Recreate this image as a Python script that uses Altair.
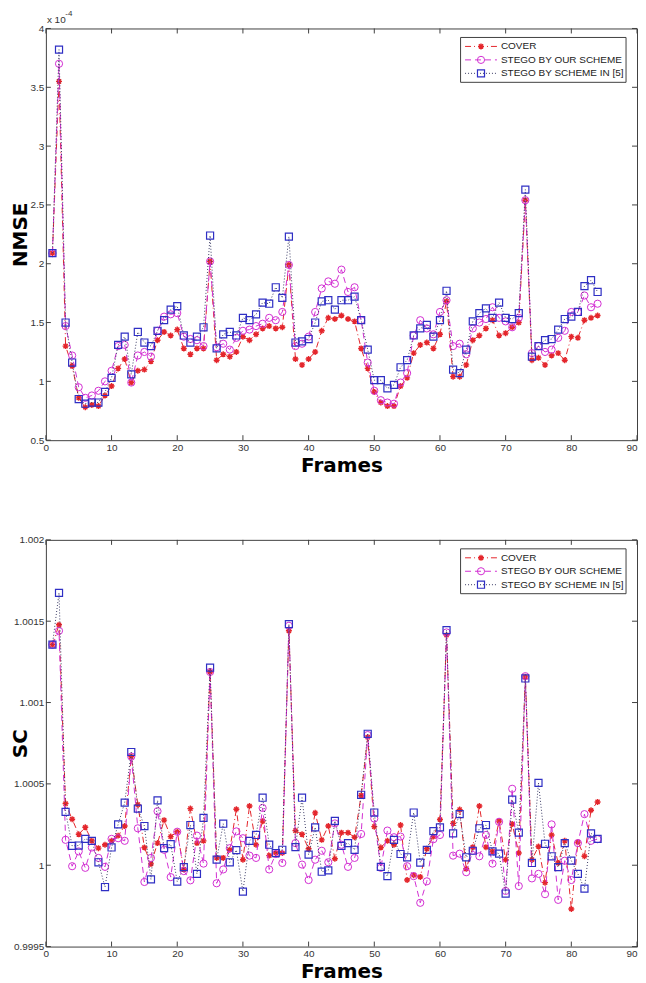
import altair as alt
import pandas as pd

frames = list(range(1, 85))
series_names = ["COVER", "STEGO BY OUR SCHEME", "STEGO BY SCHEME IN [5]"]
exponent_label = ["x 10", "-4"]

nmse_cover = [2.09, 3.55, 1.30, 1.13, 0.86, 0.78, 0.80, 0.79, 0.88, 0.96,
              1.11, 1.19, 0.99, 1.09, 1.10, 1.17, 1.35, 1.42, 1.39, 1.44,
              1.28, 1.23, 1.28, 1.28, 2.02, 1.18, 1.23, 1.21, 1.25, 1.38,
              1.35, 1.40, 1.45, 1.47, 1.45, 1.46, 1.99, 1.19, 1.14, 1.19,
              1.25, 1.43, 1.54, 1.53, 1.56, 1.53, 1.51, 1.28, 1.11, 0.91,
              0.82, 0.79, 0.79, 0.96, 1.03, 1.24, 1.31, 1.33, 1.28, 1.40,
              1.68, 1.04, 1.04, 1.14, 1.35, 1.39, 1.45, 1.52, 1.39, 1.41,
              1.46, 1.50, 2.54, 1.18, 1.20, 1.14, 1.22, 1.24, 1.18, 1.38,
              1.37, 1.52, 1.54, 1.56]
nmse_ours = [2.09, 3.70, 1.47, 1.22, 0.95, 0.86, 0.88, 0.92, 1.00, 1.09,
             1.30, 1.31, 0.99, 1.22, 1.25, 1.21, 1.43, 1.55, 1.57, 1.58,
             1.38, 1.36, 1.35, 1.30, 2.02, 1.29, 1.32, 1.27, 1.37, 1.43,
             1.44, 1.47, 1.49, 1.54, 1.52, 1.59, 1.99, 1.30, 1.32, 1.38,
             1.59, 1.79, 1.85, 1.83, 1.95, 1.76, 1.80, 1.52, 1.16, 0.92,
             0.84, 0.82, 0.81, 0.99, 1.07, 1.39, 1.52, 1.45, 1.40, 1.59,
             1.69, 1.30, 1.32, 1.23, 1.45, 1.50, 1.53, 1.63, 1.54, 1.51,
             1.46, 1.54, 2.54, 1.24, 1.30, 1.25, 1.27, 1.37, 1.43, 1.59,
             1.59, 1.73, 1.63, 1.66]
nmse_scheme5 = [2.09, 3.82, 1.50, 1.16, 0.85, 0.81, 0.82, 0.82, 0.91, 1.03,
                1.31, 1.38, 1.06, 1.42, 1.33, 1.30, 1.43, 1.52, 1.61, 1.64,
                1.39, 1.33, 1.38, 1.46, 2.24, 1.28, 1.40, 1.42, 1.39, 1.54,
                1.52, 1.57, 1.67, 1.66, 1.80, 1.71, 2.23, 1.33, 1.34, 1.36,
                1.50, 1.68, 1.69, 1.61, 1.69, 1.69, 1.72, 1.52, 1.27, 1.01,
                1.01, 0.94, 0.97, 1.12, 1.18, 1.39, 1.45, 1.48, 1.38, 1.52,
                1.77, 1.10, 1.07, 1.27, 1.51, 1.58, 1.62, 1.54, 1.67, 1.54,
                1.53, 1.58, 2.63, 1.21, 1.30, 1.35, 1.36, 1.44, 1.53, 1.55,
                1.59, 1.81, 1.86, 1.76]

sc_cover = [1.001356, 1.001478, 1.000379, 1.000283, 1.000190, 1.000233, 1.000150, 1.000105, 1.000126, 1.000150,
            1.000182, 1.000241, 1.000668, 1.000372, 1.000109, 1.000008, 1.000136, 1.000277, 1.000176, 1.000206,
            0.999974, 1.000348, 1.000136, 1.000150, 1.001188, 1.000045, 1.000045, 1.000095, 1.000344, 1.000034,
            1.000364, 1.000126, 1.000271, 1.000059, 1.000075, 1.000075, 1.001441, 1.000213, 1.000190, 1.000101,
            1.000322, 1.000156, 1.000241, 1.000040, 1.000200, 1.000200, 1.000172, 1.000429, 1.000787, 1.000237,
            1.000109, 1.000150, 1.000126, 1.000247, 0.999909, 0.999939, 0.999928, 1.000101, 1.000176, 1.000281,
            1.001415, 1.000257, 1.000342, 0.999978, 1.000111, 1.000364, 1.000111, 1.000085, 1.000271, 1.000034,
            1.000253, 1.000075, 1.001158, 1.000034, 1.000115, 0.999893, 1.000186, 1.000014, 1.000150, 0.999731,
            1.000142, 1.000055, 1.000338, 1.000389]
sc_ours = [1.001356, 1.001441, 1.000156, 0.999994, 1.000085, 0.999984, 1.000109, 1.000045, 0.999990, 1.000162,
           1.000166, 1.000150, 1.000668, 1.000227, 0.999897, 1.000045, 1.000332, 1.000095, 0.999927, 1.000206,
           0.999964, 0.999907, 1.000182, 1.000010, 1.001188, 0.999889, 0.999974, 1.000105, 1.000208, 1.000166,
           1.000059, 1.000045, 1.000352, 0.999974, 1.000069, 1.000014, 1.001472, 1.000136, 1.000004, 0.999909,
           1.000034, 1.000089, 1.000018, 1.000257, 1.000126, 0.999990, 1.000045, 1.000192, 1.000800, 1.000287,
           0.999984, 1.000213, 1.000172, 1.000176, 0.999994, 0.999933, 0.999769, 0.999901, 1.000160, 1.000186,
           1.001431, 1.000059, 1.000071, 0.999957, 1.000089, 1.000055, 1.000186, 1.000010, 1.000267, 0.999842,
           1.000470, 0.999872, 1.001162, 0.999919, 0.999947, 0.999822, 1.000251, 0.999787, 1.000028, 0.999909,
           1.000136, 1.000314, 1.000150, 1.000160]
sc_scheme5 = [1.001356, 1.001674, 1.000328, 1.000119, 1.000121, 1.000162, 1.000150, 1.000018, 0.999866, 1.000109,
              1.000251, 1.000385, 1.000696, 1.000348, 1.000241, 0.999913, 1.000399, 1.000105, 1.000130, 0.999899,
              0.999988, 1.000247, 0.999947, 1.000291, 1.001215, 1.000034, 1.000255, 1.000018, 1.000093, 0.999838,
              1.000150, 1.000186, 1.000415, 1.000126, 1.000075, 1.000095, 1.001482, 1.000111, 1.000415, 1.000065,
              1.000233, 0.999960, 0.999968, 1.000273, 1.000119, 1.000136, 1.000095, 1.000433, 1.000808, 1.000324,
              0.999990, 0.999933, 1.000156, 1.000069, 1.000049, 1.000324, 1.000016, 1.000094, 1.000210, 1.000233,
              1.001445, 1.000196, 1.000314, 1.000049, 1.000089, 1.000227, 1.000247, 1.000085, 1.000071, 0.999826,
              1.000403, 1.000200, 1.001148, 1.000014, 1.000506, 1.000132, 1.000055, 0.999988, 1.000136, 1.000028,
              0.999947, 0.999856, 1.000196, 1.000162]

x_ticks = [0, 10, 20, 30, 40, 50, 60, 70, 80, 90]
nmse_ticks = [0.5, 1, 1.5, 2, 2.5, 3, 3.5, 4]
sc_ticks = [0.9995, 1.0, 1.0005, 1.001, 1.0015, 1.002]

W = 593
H1 = 413
H2 = 408

RED = "#e4262c"
MAG = "#d22fd2"
BLUE = "#2f2fc4"
DOTC = "#3c3c66"
FRAME = "#404040"
STAR = "M-1,0L1,0M0,-1L0,1M-0.7,-0.7L0.7,0.7M-0.7,0.7L0.7,-0.7"

styles = [
    dict(line=RED, dash=[6, 3, 1, 3], shape=STAR, size=36, mcolor=RED, sw=1.4),
    dict(line=MAG, dash=[6, 4], shape="circle", size=52, mcolor=MAG, sw=1.0),
    dict(line=DOTC, dash=[1, 2], shape="square", size=50, mcolor=BLUE, sw=1.2),
]


def panel(series, ytitle, ydomain, yticks, H, exponent=False):
    xscale = alt.Scale(domain=[0, 90], nice=False, zero=False)
    yscale = alt.Scale(domain=ydomain, nice=False, zero=False)
    xaxis = alt.Axis(values=x_ticks, title="Frames", labelFlush=False, format="d",
                     labelAlign={"condition": {"test": "datum.value === 90", "value": "right"},
                                 "value": "center"})
    yaxis = alt.Axis(values=yticks, title=ytitle, format="~g", labelFlush=False,
                     titleX=-25, titleY=H / 2, titleAngle=270,
                     titleAlign="center", titleBaseline="middle")

    def X(f):
        return alt.X(f, scale=xscale, axis=xaxis)

    def Y(f):
        return alt.Y(f, scale=yscale, axis=yaxis)

    layers = []
    for vals, st in zip(series, styles):
        df = pd.DataFrame({"frame": frames, "value": vals})
        base = alt.Chart(df)
        layers.append(base.mark_line(color=st["line"], strokeDash=st["dash"], strokeWidth=1)
                      .encode(x=X("frame:Q"), y=Y("value:Q")))
        layers.append(base.mark_point(shape=st["shape"], size=st["size"], color=st["mcolor"],
                                      filled=False, strokeWidth=st["sw"], opacity=1)
                      .encode(x=X("frame:Q"), y=Y("value:Q")))

    # inward ticks (MATLAB style box axes)
    xt = alt.Chart(pd.DataFrame({"t": x_ticks}))
    layers.append(xt.mark_rule(color=FRAME).encode(x=X("t:Q"), y=alt.value(H - 5), y2=alt.value(H)))
    layers.append(xt.mark_rule(color=FRAME).encode(x=X("t:Q"), y=alt.value(0), y2=alt.value(5)))
    yt = alt.Chart(pd.DataFrame({"t": yticks}))
    layers.append(yt.mark_rule(color=FRAME).encode(y=Y("t:Q"), x=alt.value(0), x2=alt.value(5)))
    layers.append(yt.mark_rule(color=FRAME).encode(y=Y("t:Q"), x=alt.value(W - 5), x2=alt.value(W)))

    # legend
    one = pd.DataFrame({"a": [0]})
    lx1 = W - 11
    lx0 = lx1 - 166
    layers.append(alt.Chart(one).mark_rect(fill="white", stroke=FRAME, strokeWidth=1)
                  .encode(x=alt.value(lx0), x2=alt.value(lx1), y=alt.value(9), y2=alt.value(54)))
    rows = [18, 31.5, 45]
    for name, st, ry in zip(series_names, styles, rows):
        layers.append(alt.Chart(one).mark_rule(color=st["line"], strokeDash=st["dash"], strokeWidth=1)
                      .encode(x=alt.value(lx0 + 4.5), x2=alt.value(lx0 + 36.5), y=alt.value(ry)))
        layers.append(alt.Chart(one).mark_point(shape=st["shape"], size=st["size"], color=st["mcolor"],
                                                filled=False, strokeWidth=st["sw"], opacity=1)
                      .encode(x=alt.value(lx0 + 20.5), y=alt.value(ry)))
        layers.append(alt.Chart(pd.DataFrame({"label": [name]}))
                      .mark_text(align="left", baseline="middle", fontSize=10,
                                 font="Liberation Sans", color="#222222")
                      .encode(x=alt.value(lx0 + 40.5), y=alt.value(ry), text="label:N"))

    if exponent:
        layers.append(alt.Chart(pd.DataFrame({"label": [exponent_label[0]]}))
                      .mark_text(align="left", baseline="middle", fontSize=10,
                                 font="Liberation Sans", color="#333333")
                      .encode(x=alt.value(1), y=alt.value(-8.5), text="label:N"))
        layers.append(alt.Chart(pd.DataFrame({"label": [exponent_label[1]]}))
                      .mark_text(align="left", baseline="middle", fontSize=8,
                                 font="Liberation Sans", color="#333333")
                      .encode(x=alt.value(19.5), y=alt.value(-14.5), text="label:N"))

    return alt.layer(*layers).properties(width=W, height=H)


top = panel([nmse_cover, nmse_ours, nmse_scheme5], "NMSE", [0.5, 4], nmse_ticks, H1, exponent=True)
bottom = panel([sc_cover, sc_ours, sc_scheme5], "SC", [0.9995, 1.002], sc_ticks, H2)

chart = (
    alt.vconcat(top, bottom, spacing=58)
    .properties(padding={"left": 2, "top": 0, "right": 0, "bottom": 0}, background="white")
    .configure_view(stroke=FRAME, strokeWidth=1)
    .configure_axis(domain=False, grid=False, ticks=False, tickSize=0,
                    labelFont="Liberation Sans", labelFontSize=10, labelColor="#333333",
                    labelPadding=2, titlePadding=3,
                    titleFont="DejaVu Sans", titleFontSize=20, titleFontWeight="bold",
                    titleColor="#000000")
)

chart.save("out.html", embed_options={"renderer": "svg", "actions": False})
